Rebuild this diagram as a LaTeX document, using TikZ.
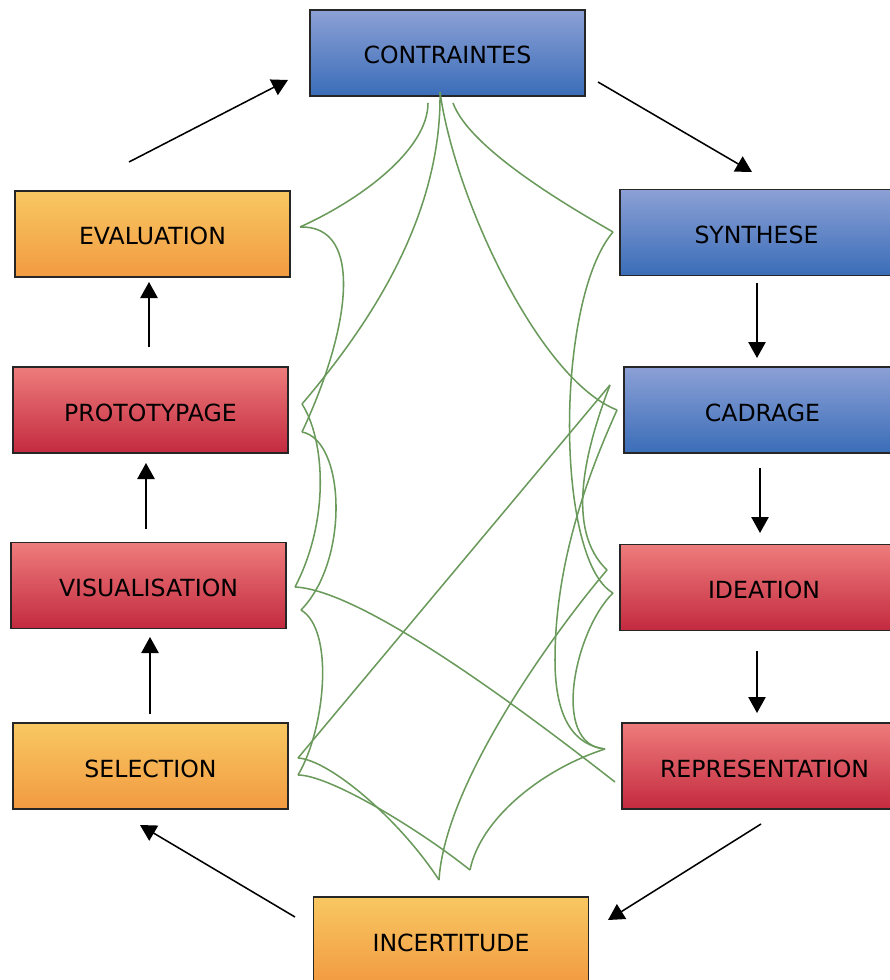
\documentclass[tikz,border=0pt]{standalone}
\usepackage{fontspec}
\setmainfont{DejaVu Sans}
\usetikzlibrary{arrows.meta}
\definecolor{bluetop}{HTML}{8CA0D5}
\definecolor{bluebot}{HTML}{3A6DB8}
\definecolor{redtop}{HTML}{EE7C7C}
\definecolor{redbot}{HTML}{C32A3F}
\definecolor{ortop}{HTML}{F8C862}
\definecolor{orbot}{HTML}{F29A42}
\definecolor{linkgreen}{HTML}{6A9A5B}
\tikzset{
  box/.style={draw=black!85, line width=0.9pt, minimum width=206.25pt, minimum height=64.5pt,
    inner sep=0pt, text height=16.5pt, text depth=0pt, font=\fontsize{17.7}{20}\selectfont, text=black},
  bluebox/.style={box, top color=bluetop, bottom color=bluebot},
  redbox/.style={box, top color=redtop, bottom color=redbot},
  orbox/.style={box, top color=ortop, bottom color=orbot},
  arr/.style={line width=1.15pt, -{Triangle[length=12pt,width=13pt]}},
  link/.style={draw=linkgreen, line width=1.15pt}
}
\begin{document}
\begin{tikzpicture}[x=0.75pt,y=-0.75pt]
\useasboundingbox (0,0) rectangle (889,980);
% boxes
\node[bluebox] (con) at (447.5,53) {CONTRAINTES};
\node[bluebox, minimum width=204.75pt] (syn) at (756.5,232.5) {SYNTHESE};
\node[bluebox, minimum width=207.75pt] (cad) at (762.5,410) {CADRAGE};
\node[redbox, minimum width=216pt] (ide) at (764,587.5) {IDEATION};
\node[redbox, minimum width=213.75pt] (rep) at (764.5,766) {REPRESENTATION};
\node[orbox] (eva) at (152.5,234) {EVALUATION};
\node[redbox] (pro) at (150.5,410) {PROTOTYPAGE};
\node[redbox] (vis) at (148.5,585.5) {VISUALISATION};
\node[orbox] (sel) at (150.5,766) {SELECTION};
\node[orbox] (inc) at (451,940) {INCERTITUDE};
% arrow ends
\coordinate (a1s) at (129,162); \coordinate (a1e) at (288,80);
\coordinate (a2s) at (598,82);  \coordinate (a2e) at (752,172);
\coordinate (a3s) at (757,283); \coordinate (a3e) at (757,358);
\coordinate (a4s) at (760,468); \coordinate (a4e) at (760,533);
\coordinate (a5s) at (757,651); \coordinate (a5e) at (757,713);
\coordinate (a6s) at (761,824); \coordinate (a6e) at (608,920);
\coordinate (a7s) at (295,917); \coordinate (a7e) at (140,825);
\coordinate (a8s) at (150,714); \coordinate (a8e) at (150,637);
\coordinate (a9s) at (146,529); \coordinate (a9e) at (146,463);
\coordinate (a10s) at (149,347); \coordinate (a10e) at (149,282);
\draw[arr] (a1s) -- (a1e);
\draw[arr] (a2s) -- (a2e);
\draw[arr] (a3s) -- (a3e);
\draw[arr] (a4s) -- (a4e);
\draw[arr] (a5s) -- (a5e);
\draw[arr] (a6s) -- (a6e);
\draw[arr] (a7s) -- (a7e);
\draw[arr] (a8s) -- (a8e);
\draw[arr] (a9s) -- (a9e);
\draw[arr] (a10s) -- (a10e);
% green link points
\coordinate (c0) at (440,92);
\coordinate (c0a) at (428,103);
\coordinate (c0b) at (453,103);
\coordinate (e1) at (300,227);
\coordinate (s1) at (613,232);
\coordinate (p1) at (302,404);
\coordinate (p2) at (302,432);
\coordinate (k1) at (610,385);
\coordinate (k2) at (617,410);
\coordinate (v1) at (295,587);
\coordinate (v2) at (301,610);
\coordinate (i1) at (607,570);
\coordinate (i2) at (613,593);
\coordinate (l1) at (298,758);
\coordinate (l2) at (298,775);
\coordinate (r1) at (605,749);
\coordinate (r2) at (615,782);
\coordinate (b1) at (439,880);
\coordinate (b2) at (470,870);
% green links
\draw[link] (c0a) .. controls (428,150) and (360,200) .. (e1);
\draw[link] (c0) .. controls (442,220) and (365,330) .. (p1);
\draw[link] (c0) .. controls (455,200) and (540,380) .. (k2);
\draw[link] (c0b) .. controls (470,150) and (575,210) .. (s1);
\draw[link] (e1) .. controls (365,225) and (350,330) .. (p2);
\draw[link] (s1) .. controls (555,300) and (555,560) .. (i2);
\draw[link] (p1) .. controls (325,440) and (330,520) .. (v1);
\draw[link] (p2) .. controls (345,440) and (350,560) .. (v2);
\draw[link] (k1) .. controls (585,450) and (565,530) .. (i1);
\draw[link] (k2) .. controls (590,470) and (555,560) .. (555,660) .. controls (555,720) and (575,745) .. (r1);
\draw[link] (k1) -- (l1);
\draw[link] (v1) .. controls (360,590) and (510,700) .. (r2);
\draw[link] (v2) .. controls (335,630) and (325,730) .. (l2);
\draw[link] (i1) .. controls (560,625) and (445,780) .. (b1);
\draw[link] (i2) .. controls (575,630) and (550,745) .. (r1);
\draw[link] (l1) .. controls (330,760) and (400,820) .. (b1);
\draw[link] (l2) .. controls (330,775) and (420,830) .. (b2);
\draw[link] (b2) .. controls (480,820) and (540,770) .. (r1);
\end{tikzpicture}
\end{document}
